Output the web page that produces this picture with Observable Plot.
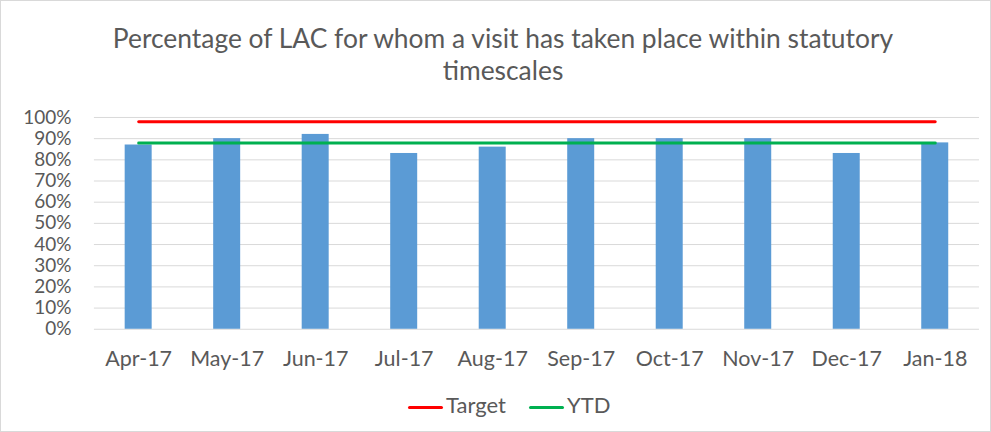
<!DOCTYPE html>
<html><head><meta charset="utf-8">
<script src="https://cdn.jsdelivr.net/npm/d3@7"></script>
<script src="https://cdn.jsdelivr.net/npm/@observablehq/plot@0.6"></script>
<style>
body{margin:0;background:#fff;}
#wrap{position:relative;width:989px;height:430px;border:1px solid #d9d9d9;overflow:hidden;font-family:Lato,"Open Sans",sans-serif;color:#595959;}
#title{position:absolute;left:0;top:21px;width:1004px;text-align:center;font-size:26.4px;line-height:32px;}
#chart{position:absolute;left:-1px;top:94px;}
#legend{position:absolute;top:391px;left:0;width:991px;font-size:22px;}
.li{position:absolute;top:0;height:26px;line-height:26px;white-space:nowrap;}
.sw{display:inline-block;width:35px;height:3px;vertical-align:middle;margin-right:3px;border-radius:1.5px;}
</style></head>
<body>
<div id="wrap">
<div id="title">Percentage of LAC for whom a visit has taken place within statutory<br>timescales</div>
<div id="chart"></div>
<div id="legend"></div>
</div>
<script>
const months = ["Apr-17","May-17","Jun-17","Jul-17","Aug-17","Sep-17","Oct-17","Nov-17","Dec-17","Jan-18"];
const values = [0.87,0.90,0.92,0.83,0.86,0.90,0.90,0.90,0.83,0.88];
const target = [0.98,0.98,0.98,0.98,0.98,0.98,0.98,0.98,0.98,0.98];
const ytd = [0.88,0.88,0.88,0.88,0.88,0.88,0.88,0.88,0.88,0.88];
const yTicks = [0,0.1,0.2,0.3,0.4,0.5,0.6,0.7,0.8,0.9,1.0];
const seriesNames = ["Target","YTD"];
const seriesColors = ["#FF0000","#00B050"];

const data = months.map((m,i)=>({month:m,value:values[i],target:target[i],ytd:ytd[i]}));

const plot = Plot.plot({
  width: 991, height: 286,
  marginLeft: 94, marginRight: 11, marginTop: 22, marginBottom: 52,
  style: {fontFamily: "Lato, 'Open Sans', sans-serif", fontSize: "18px", color: "#595959", background: "transparent", overflow: "visible"},
  x: {domain: months, paddingInner: 0.695, paddingOuter: 0.3475, round: false, label: null},
  y: {domain: [0,1], label: null},
  marks: [
    Plot.gridY(yTicks, {stroke: "#d9d9d9", strokeOpacity: 1, strokeWidth: 1}),
    Plot.axisY({ticks: yTicks, tickFormat: d => Math.round(d*100)+"%", tickSize: 0, tickPadding: 23, fontSize: 19, label: null}),
    Plot.axisX({tickSize: 0, tickPadding: 22, fontSize: 21.5, label: null}),
    Plot.barY(data, {x: "month", y: "value", fill: "#5B9BD5"}),
    Plot.lineY(data, {x: "month", y: "target", stroke: seriesColors[0], strokeWidth: 3, strokeLinecap: "round"}),
    Plot.lineY(data, {x: "month", y: "ytd", stroke: seriesColors[1], strokeWidth: 3, strokeLinecap: "round"})
  ]
});
document.getElementById("chart").appendChild(plot);

const lg = document.getElementById("legend");
const lefts = [407, 528];
seriesNames.forEach((n,i)=>{
  const d = document.createElement("div");
  d.className = "li";
  d.style.left = lefts[i] + "px";
  d.innerHTML = `<span class="sw" style="background:${seriesColors[i]}"></span>${n}`;
  lg.appendChild(d);
});
</script>
</body></html>
